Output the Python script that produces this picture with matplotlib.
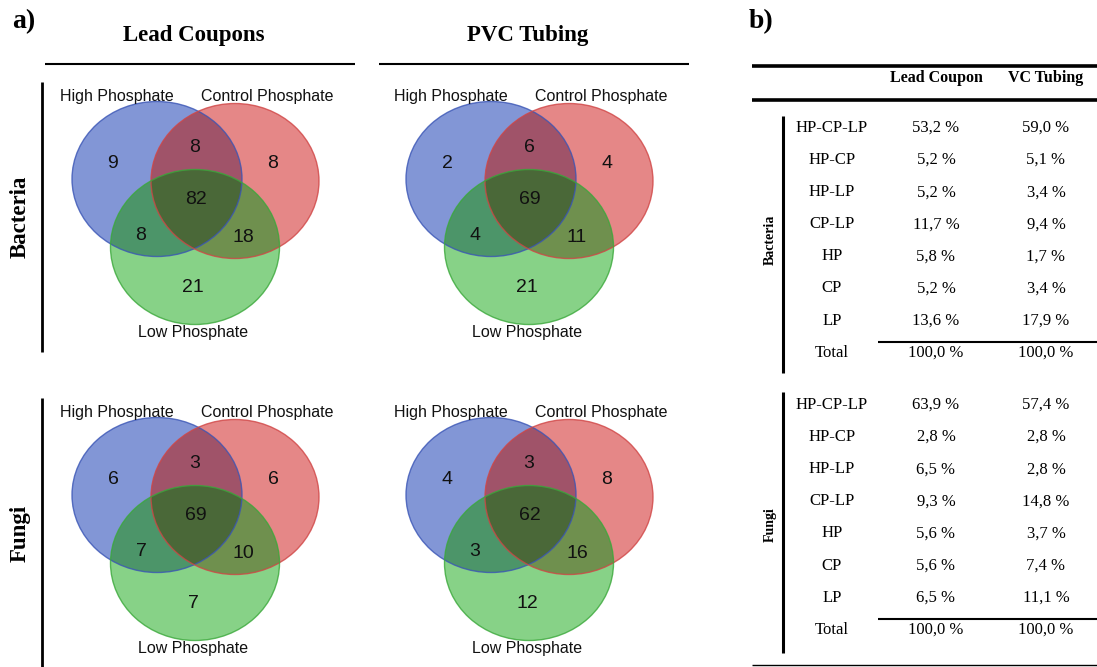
import matplotlib
matplotlib.use("Agg")
import matplotlib.pyplot as plt
from matplotlib.patches import Ellipse

# ---------------- data ----------------
set_labels = ["High Phosphate", "Control Phosphate", "Low Phosphate"]
column_titles = ["Lead Coupons", "PVC Tubing"]
row_titles = ["Bacteria", "Fungi"]
# region order: HP, HP-CP, CP, HP-CP-LP, HP-LP, CP-LP, LP
bact_lead = [9, 8, 8, 82, 8, 18, 21]
bact_pvc = [2, 6, 4, 69, 4, 11, 21]
fungi_lead = [6, 3, 6, 69, 7, 10, 7]
fungi_pvc = [4, 3, 8, 62, 3, 16, 12]

table_cols = ["Lead Coupon", "VC Tubing"]
table_rows = ["HP-CP-LP", "HP-CP", "HP-LP", "CP-LP", "HP", "CP", "LP", "Total"]
bact_lead_pct = [53.2, 5.2, 5.2, 11.7, 5.8, 5.2, 13.6, 100.0]
bact_vc_pct = [59.0, 5.1, 3.4, 9.4, 1.7, 3.4, 17.9, 100.0]
fungi_lead_pct = [63.9, 2.8, 6.5, 9.3, 5.6, 5.6, 6.5, 100.0]
fungi_vc_pct = [57.4, 2.8, 2.8, 14.8, 3.7, 7.4, 11.1, 100.0]

# ---------------- layout ----------------
W, H = 1097, 667
fig = plt.figure(figsize=(W / 100, H / 100), dpi=100)
ax = fig.add_axes([0, 0, 1, 1])
ax.set_xlim(0, W)
ax.set_ylim(H, 0)
ax.axis("off")

SERIF = "Liberation Serif"
SANS = "Liberation Sans"

# panel a) headers
ax.text(12, 22, "a)", fontsize=20, fontweight="bold", family=SERIF, ha="left", va="center")
ax.text(749, 22, "b)", fontsize=20, fontweight="bold", family=SERIF, ha="left", va="center")

col_x0 = [0, 334]
row_y0 = [0, 316]
for ci, title in enumerate(column_titles):
    ax.text(194 + col_x0[ci], 35, title, fontsize=16.5, fontweight="bold", family=SERIF,
            ha="center", va="center")
    ax.plot([45 + col_x0[ci], 355 + col_x0[ci]], [64, 64], color="black", lw=1.5,
            solid_capstyle="butt")

vlines_a = [(82, 352), (398, 667)]
for ri, title in enumerate(row_titles):
    ax.text(20, 217 + row_y0[ri], title, fontsize=16.5, fontweight="bold", family=SERIF,
            ha="center", va="center", rotation=90)
    ax.plot([42, 42], list(vlines_a[ri]), color="black", lw=2, solid_capstyle="butt")

venn_data = [[bact_lead, bact_pvc], [fungi_lead, fungi_pvc]]

circ = [
    dict(c=(157, 179), w=170, h=155, fc="#2f50bc", ec="#3a55b5"),
    dict(c=(235, 181), w=168, h=155, fc="#d53737", ec="#d04545"),
    dict(c=(195, 247), w=169, h=155, fc="#37b437", ec="#3aa83a"),
]
num_pos = [(113, 163), (195, 148), (273, 163), (196, 200), (141, 236), (243, 237), (193, 287)]
lab_pos = [(117, 97), (267, 97), (193, 333)]

for ri in range(2):
    for ci in range(2):
        dx, dy = col_x0[ci], row_y0[ri]
        fills = []
        for c in circ:
            e = Ellipse((c["c"][0] + dx, c["c"][1] + dy), c["w"], c["h"],
                        facecolor=c["fc"], alpha=0.6, edgecolor="none", zorder=2)
            ax.add_patch(e)
            fills.append(e)
        # darken overlaps (multiplicative-like look)
        for i in range(3):
            for j in range(i + 1, 3):
                ci_ = circ[i]
                d = Ellipse((ci_["c"][0] + dx, ci_["c"][1] + dy), ci_["w"], ci_["h"],
                            facecolor="black", alpha=0.1, edgecolor="none", zorder=2.5)
                ax.add_patch(d)
                d.set_clip_path(fills[j])
        for c in circ:
            e2 = Ellipse((c["c"][0] + dx, c["c"][1] + dy), c["w"], c["h"],
                         facecolor="none", edgecolor=c["ec"], lw=1.0, alpha=0.8, zorder=3)
            ax.add_patch(e2)
        for (px, py), v in zip(num_pos, venn_data[ri][ci]):
            ax.text(px + dx, py + dy, str(v), fontsize=14, family=SANS, ha="center",
                    va="center", color="#111111", zorder=5)
        for (px, py), lab in zip(lab_pos, set_labels):
            ax.text(px + dx, py + dy, lab, fontsize=11.5, family=SANS, ha="center",
                    va="center", color="#111111", zorder=5)

# ---------------- table b) ----------------
x_lab, x_c1, x_c2 = 832, 936, 1046
ax.plot([752, W], [66, 66], color="black", lw=2.6, solid_capstyle="butt")
ax.plot([752, W], [100, 100], color="black", lw=2.6, solid_capstyle="butt")
ax.text(x_c1, 78, table_cols[0], fontsize=11.5, fontweight="bold", family=SERIF,
        ha="center", va="center")
ax.text(x_c2, 78, table_cols[1], fontsize=11.5, fontweight="bold", family=SERIF,
        ha="center", va="center")

def fmt(v):
    return f"{v:.1f}".replace(".", ",") + " %"

blocks = [
    (row_titles[0], bact_lead_pct, bact_vc_pct, 128, (116, 373), 240),
    (row_titles[1], fungi_lead_pct, fungi_vc_pct, 405, (392, 653), 525),
]
step = 32.1
for title, c1, c2, y0, (vy0, vy1), ty in blocks:
    ax.plot([783, 783], [vy0, vy1], color="black", lw=2.2, solid_capstyle="butt")
    ax.text(770, ty, title, fontsize=10, fontweight="bold", family=SERIF,
            ha="center", va="center", rotation=90)
    for i, lab in enumerate(table_rows):
        y = y0 + i * step
        ax.text(x_lab, y, lab, fontsize=12, family=SERIF, ha="center", va="center")
        ax.text(x_c1, y, fmt(c1[i]), fontsize=12, family=SERIF, ha="center", va="center")
        ax.text(x_c2, y, fmt(c2[i]), fontsize=12, family=SERIF, ha="center", va="center")
    ytot = y0 + 7 * step - 11
    ax.plot([878, W], [ytot, ytot], color="black", lw=1.5, solid_capstyle="butt")

ax.plot([752, W], [665, 665], color="black", lw=1.0, solid_capstyle="butt")

fig.savefig("out.png", dpi=100)
